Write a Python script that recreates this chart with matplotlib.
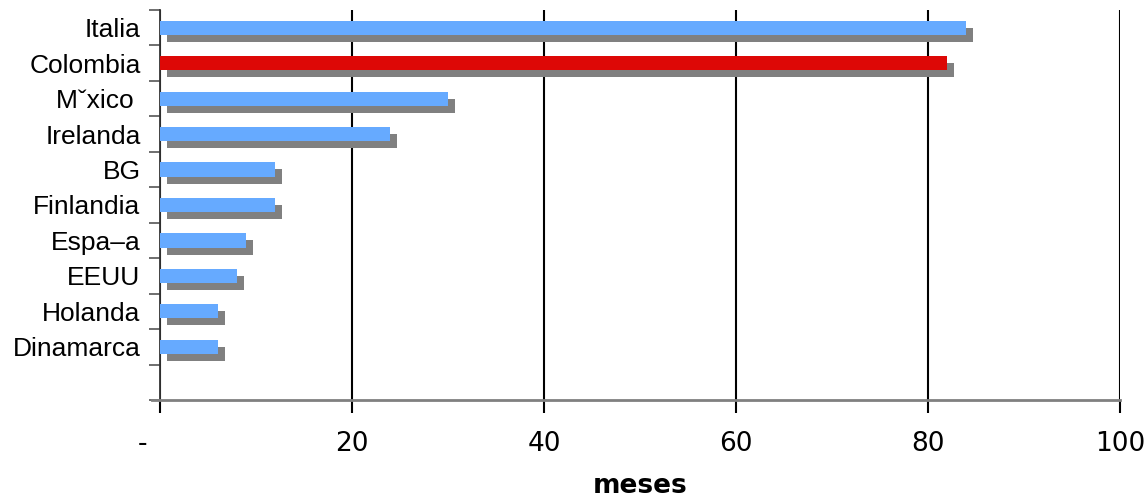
import numpy as np
import matplotlib
matplotlib.use("Agg")
import matplotlib.pyplot as plt
from matplotlib.transforms import ScaledTranslation

# Months per country (top to bottom)
countries = ["Italia", "Colombia", "M\u02c7xico ", "Irelanda", "BG", "Finlandia",
             "Espa\u2013a", "EEUU", "Holanda", "Dinamarca"]
months = [84, 82, 30, 24, 12, 12, 9, 8, 6, 6]
highlight = "Colombia"

x_ticks = [0, 20, 40, 60, 80, 100]
x_tick_labels = ["-    ", "20", "40", "60", "80", "100"]

BLUE = "#66AAFF"
RED = "#DD0806"
SHADOW = "#808080"

W, H, DPI = 1147, 501, 100
fig = plt.figure(figsize=(W / DPI, H / DPI), dpi=DPI)
ax = fig.add_axes([160 / W, (H - 400) / H, 960 / W, 390 / H])

n = len(countries)
pos = np.arange(n)
colors = [RED if c == highlight else BLUE for c in countries]
bar_h = 0.4

# drop shadow: same bars shifted right and down by a few pixels
shadow_tr = ax.transData + ScaledTranslation(7 / DPI, -7 / DPI, fig.dpi_scale_trans)
ax.barh(pos, months, height=bar_h, color=SHADOW, transform=shadow_tr, zorder=2)
ax.barh(pos, months, height=bar_h, color=colors, zorder=3)

# one spare empty slot below the last category
ax.set_ylim(n + 0.5, -0.5)
ax.set_xlim(0, 100)

ax.set_yticks(pos)
ax.set_yticklabels(countries, fontsize=19, family="Liberation Sans")
ax.tick_params(axis="y", which="major", length=0, pad=14)
ax.set_yticks(np.arange(-0.5, n + 1), minor=True)
ax.tick_params(axis="y", which="minor", length=8, width=1.2, color="#555555")

ax.set_xticks(x_ticks)
ax.set_xticklabels(x_tick_labels, fontsize=19, family="DejaVu Sans")
ax.tick_params(axis="x", length=9, width=1.5, color="black", pad=13)

ax.xaxis.grid(True, color="black", linewidth=1.5, zorder=1)
ax.set_axisbelow(True)

for side in ("top", "right"):
    ax.spines[side].set_visible(False)
ax.spines["left"].set_color("#333333")
ax.spines["left"].set_linewidth(1.3)
ax.spines["bottom"].set_color("#808080")
ax.spines["bottom"].set_linewidth(2)
ax.spines["bottom"].set_bounds(-0.85, 100)

ax.set_xlabel("meses", fontsize=19, fontweight="bold", family="DejaVu Sans", labelpad=12)

fig.savefig("out.png", dpi=DPI)
